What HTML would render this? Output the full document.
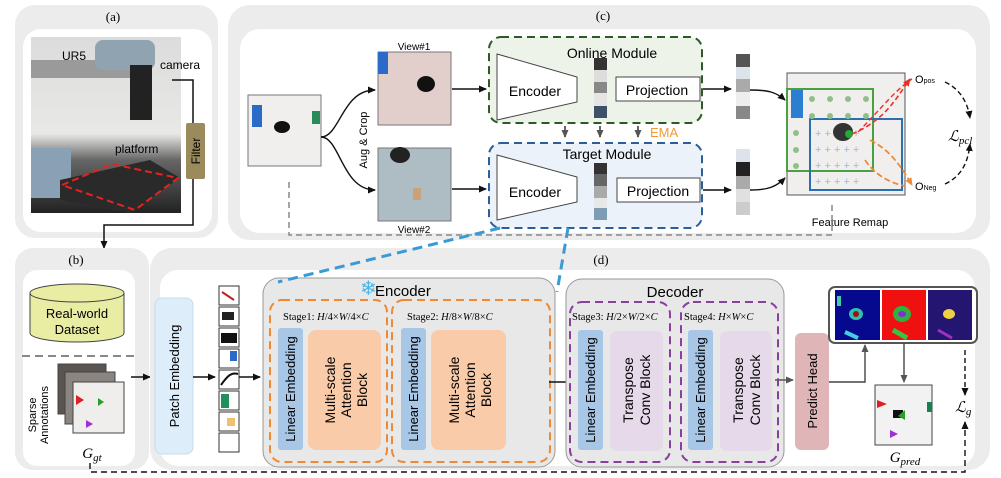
<!DOCTYPE html>
<html><head><meta charset="utf-8"><style>
html,body{margin:0;padding:0;background:#fff}
svg{display:block}
text{font-family:"Liberation Sans",sans-serif}
.s{font-family:"Liberation Serif",serif}
</style></head><body>
<svg width="1001" height="478" viewBox="0 0 1001 478" xmlns="http://www.w3.org/2000/svg">
<defs>
<marker id="ab" markerWidth="8" markerHeight="8" refX="7" refY="4" orient="auto" markerUnits="userSpaceOnUse"><path d="M0,0.5 L8,4 L0,7.5z" fill="#111"/></marker>
<marker id="ag" markerWidth="8" markerHeight="8" refX="7" refY="4" orient="auto" markerUnits="userSpaceOnUse"><path d="M0,0.5 L8,4 L0,7.5z" fill="#555"/></marker>
<marker id="ar" markerWidth="8" markerHeight="8" refX="7" refY="4" orient="auto" markerUnits="userSpaceOnUse"><path d="M0,0.5 L8,4 L0,7.5z" fill="#e8312a"/></marker>
<marker id="ao" markerWidth="8" markerHeight="8" refX="7" refY="4" orient="auto" markerUnits="userSpaceOnUse"><path d="M0,0.5 L8,4 L0,7.5z" fill="#ee8a35"/></marker>
<linearGradient id="photo" x1="0" y1="0" x2="0" y2="1"><stop offset="0" stop-color="#dcdcdc"/><stop offset="0.55" stop-color="#e8e8e6"/><stop offset="0.7" stop-color="#666"/><stop offset="1" stop-color="#222"/></linearGradient>
</defs>

<!-- Panel a -->
<rect x="15" y="5" width="203" height="233" rx="20" fill="#ececec"/>
<rect x="23" y="29" width="189" height="203" rx="18" fill="#fff"/>
<text x="113" y="21" class="s" font-size="13" text-anchor="middle">(a)</text>
<rect x="31" y="37" width="150" height="176" fill="url(#photo)"/>
<rect x="31" y="60" width="120" height="18" fill="#9a9a9a"/>
<rect x="95" y="40" width="60" height="30" rx="8" fill="#8fa3b0"/>
<rect x="130" y="65" width="22" height="55" fill="#222"/>
<rect x="31" y="148" width="40" height="50" fill="#8aa0b5"/>
<path d="M60,180 L150,160 L180,178 L130,213 L60,200z" fill="#2a2a2a"/>
<path d="M62,185 L112,164 L178,178 L135,210z" fill="none" stroke="#e5231e" stroke-width="2" stroke-dasharray="7,4"/>
<text x="62" y="60" font-size="12">UR5</text>
<text x="160" y="69" font-size="12">camera</text>
<text x="115" y="153" font-size="12">platform</text>
<path d="M172,80 L193,80 L193,225 L104,225 L104,248" fill="none" stroke="#111" stroke-width="1.5" marker-end="url(#ab)"/>
<rect x="186" y="123" width="19" height="56" rx="2" fill="#9b8a5c"/>
<text transform="translate(200,151) rotate(-90)" font-size="12" text-anchor="middle">Filter</text>

<!-- Panel c -->
<rect x="228" y="5" width="762" height="235" rx="22" fill="#ececec"/>
<rect x="240" y="29" width="736" height="204" rx="20" fill="#fff"/>
<text x="603" y="20" class="s" font-size="13" text-anchor="middle">(c)</text>
<rect x="248" y="95" width="73" height="71" fill="#f1eeee" stroke="#777"/>
<rect x="252" y="105" width="10" height="22" fill="#2c6ac9"/>
<ellipse cx="282" cy="127" rx="8" ry="6" fill="#111"/>
<rect x="312" y="111" width="8" height="13" fill="#2a8a5a"/>
<path d="M321,137 C340,137 342,90 375,90" fill="none" stroke="#111" stroke-width="1.4" marker-end="url(#ab)"/>
<path d="M321,137 C340,137 342,190 375,190" fill="none" stroke="#111" stroke-width="1.4" marker-end="url(#ab)"/>
<text transform="translate(367,140) rotate(-90)" font-size="11" text-anchor="middle">Aug &amp; Crop</text>
<text x="414" y="50" font-size="10" text-anchor="middle">View#1</text>
<rect x="378" y="52" width="73" height="73" fill="#e2cfcc" stroke="#777"/>
<rect x="378" y="52" width="10" height="22" fill="#2c6ac9"/>
<ellipse cx="426" cy="84" rx="9" ry="8" fill="#111"/>
<rect x="378" y="148" width="73" height="73" fill="#aebcc4" stroke="#777"/>
<ellipse cx="400" cy="155" rx="10" ry="8" fill="#222"/>
<rect x="413" y="188" width="8" height="12" fill="#c9a27a"/>
<text x="414" y="233" font-size="10" text-anchor="middle">View#2</text>
<line x1="452" y1="89" x2="486" y2="89" stroke="#111" stroke-width="1.4" marker-end="url(#ab)"/>
<line x1="452" y1="189" x2="486" y2="189" stroke="#111" stroke-width="1.4" marker-end="url(#ab)"/>

<rect x="489" y="37" width="213" height="86" rx="12" fill="#eef3ea" stroke="#2d5a27" stroke-width="2" stroke-dasharray="8,5"/>
<text x="612" y="58" font-size="14" text-anchor="middle">Online Module</text>
<path d="M497,54 L577,77 L577,102 L497,120z" fill="#fff" stroke="#444"/>
<text x="535" y="96" font-size="14" text-anchor="middle">Encoder</text>
<rect x="594" y="58" width="13" height="12" fill="#333"/><rect x="594" y="70" width="13" height="12" fill="#ddd"/><rect x="594" y="82" width="13" height="11" fill="#888"/><rect x="594" y="93" width="13" height="13" fill="#e5e5e5"/><rect x="594" y="106" width="13" height="12" fill="#3d5168"/>
<rect x="616" y="77" width="84" height="24" fill="#fff" stroke="#444"/>
<text x="657" y="95" font-size="14" text-anchor="middle">Projection</text>
<line x1="565" y1="126" x2="565" y2="137" stroke="#666" stroke-width="2" marker-end="url(#ag)"/>
<line x1="600" y1="126" x2="600" y2="137" stroke="#666" stroke-width="2" marker-end="url(#ag)"/>
<line x1="638" y1="126" x2="638" y2="137" stroke="#666" stroke-width="2" marker-end="url(#ag)"/>
<text x="650" y="137" font-size="13" fill="#ef9a3a">EMA</text>
<rect x="489" y="143" width="213" height="85" rx="12" fill="#ebf2f9" stroke="#2b5f9a" stroke-width="2" stroke-dasharray="8,5"/>
<text x="607" y="159" font-size="14" text-anchor="middle">Target Module</text>
<path d="M497,155 L577,177 L577,202 L497,220z" fill="#fff" stroke="#444"/>
<text x="535" y="197" font-size="14" text-anchor="middle">Encoder</text>
<rect x="594" y="163" width="13" height="11" fill="#333"/><rect x="594" y="174" width="13" height="12" fill="#666"/><rect x="594" y="186" width="13" height="12" fill="#aaa"/><rect x="594" y="198" width="13" height="10" fill="#e8e8e8"/><rect x="594" y="208" width="13" height="12" fill="#7f9cb5"/>
<rect x="617" y="178" width="83" height="24" fill="#fff" stroke="#444"/>
<text x="658" y="196" font-size="14" text-anchor="middle">Projection</text>
<line x1="703" y1="89" x2="731" y2="89" stroke="#111" stroke-width="1.4" marker-end="url(#ab)"/>
<line x1="703" y1="190" x2="731" y2="190" stroke="#111" stroke-width="1.4" marker-end="url(#ab)"/>
<rect x="736" y="54" width="14" height="13" fill="#555"/><rect x="736" y="67" width="14" height="12" fill="#dde3ea"/><rect x="736" y="79" width="14" height="13" fill="#aaa"/><rect x="736" y="92" width="14" height="14" fill="#eee"/><rect x="736" y="106" width="14" height="13" fill="#888"/>
<rect x="736" y="149" width="14" height="13" fill="#dde3ea"/><rect x="736" y="162" width="14" height="14" fill="#222"/><rect x="736" y="176" width="14" height="13" fill="#aaa"/><rect x="736" y="189" width="14" height="13" fill="#e0e0e0"/><rect x="736" y="202" width="14" height="13" fill="#ccc"/>
<path d="M750,90 C768,90 776,92 785,100" fill="none" stroke="#111" stroke-width="1.4" marker-end="url(#ab)"/>
<path d="M750,190 C768,190 776,187 785,178" fill="none" stroke="#111" stroke-width="1.4" marker-end="url(#ab)"/>
<rect x="787" y="73" width="118" height="122" fill="#f1efee" stroke="#555"/>
<rect x="791" y="90" width="12" height="28" fill="#2c7fd0"/>
<rect x="787" y="89" width="86" height="82" fill="none" stroke="#4aa043" stroke-width="2"/>
<rect x="810" y="119" width="92" height="71" fill="none" stroke="#2a70b0" stroke-width="2"/>
<g fill="#8fc08a"><circle cx="812" cy="99" r="3"/><circle cx="830" cy="99" r="3"/><circle cx="848" cy="99" r="3"/><circle cx="866" cy="99" r="3"/><circle cx="812" cy="116" r="3"/><circle cx="830" cy="116" r="3"/><circle cx="848" cy="116" r="3"/><circle cx="866" cy="116" r="3"/><circle cx="796" cy="133" r="3"/><circle cx="796" cy="150" r="3"/><circle cx="796" cy="166" r="3"/></g>
<g fill="#9ab8e0" font-size="11"><text x="815" y="137">+ + + + +</text><text x="815" y="153">+ + + + +</text><text x="815" y="169">+ + + + +</text><text x="815" y="185">+ + + + +</text></g>
<ellipse cx="843" cy="132" rx="10" ry="9" fill="#333"/><circle cx="849" cy="134" r="4" fill="#22aa33"/>
<path d="M852,134 C885,120 895,100 910,79" fill="none" stroke="#e8312a" stroke-width="1.6" stroke-dasharray="5,3" marker-end="url(#ar)"/>
<path d="M858,132 C880,110 895,90 912,79" fill="none" stroke="#e8312a" stroke-width="1.4" stroke-dasharray="5,3"/>
<path d="M870,140 C890,150 900,165 912,185" fill="none" stroke="#ee8a35" stroke-width="1.8" stroke-dasharray="6,3" marker-end="url(#ao)"/>
<path d="M865,160 C875,175 890,183 905,186" fill="none" stroke="#ee8a35" stroke-width="1.8" stroke-dasharray="6,3"/>
<text x="915" y="83" font-size="11">O<tspan font-size="7">pos</tspan></text>
<text x="915" y="190" font-size="11">O<tspan font-size="7">Neg</tspan></text>
<path d="M945,82 C962,90 968,105 970,118" fill="none" stroke="#111" stroke-width="1.4" stroke-dasharray="5,3" marker-end="url(#ab)"/>
<path d="M945,184 C962,176 968,162 970,144" fill="none" stroke="#111" stroke-width="1.4" stroke-dasharray="5,3" marker-end="url(#ab)"/>
<text x="948" y="141" class="s" font-size="15" font-style="italic">ℒ<tspan font-size="11" dy="3">pcl</tspan></text>
<text x="850" y="226" font-size="11" text-anchor="middle">Feature Remap</text>
<path d="M289,182 L289,235 L832,235 L832,205" fill="none" stroke="#888" stroke-width="1.5" stroke-dasharray="6,4"/>

<!-- Panel b -->
<rect x="15" y="248" width="134" height="222" rx="18" fill="#ececec"/>
<rect x="23" y="270" width="112" height="196" rx="14" fill="#fff"/>
<text x="76" y="264" class="s" font-size="13" text-anchor="middle">(b)</text>
<path d="M30,293 L30,333 A47,9 0 0 0 124,333 L124,293" fill="#e9eda4" stroke="#444"/>
<ellipse cx="77" cy="293" rx="47" ry="9" fill="#e9eda4" stroke="#444"/>
<text x="77" y="318" font-size="13" text-anchor="middle">Real-world</text>
<text x="77" y="334" font-size="13" text-anchor="middle">Dataset</text>
<line x1="22" y1="356" x2="135" y2="356" stroke="#888" stroke-width="2" stroke-dasharray="8,5"/>
<text transform="translate(36,415) rotate(-90)" font-size="11" text-anchor="middle">Sparse</text>
<text transform="translate(48,415) rotate(-90)" font-size="11" text-anchor="middle">Annotations</text>
<rect x="58" y="364" width="48" height="50" fill="#5a5550" stroke="#444"/>
<rect x="65" y="372" width="50" height="52" fill="#8a8580" stroke="#444"/>
<rect x="73" y="382" width="51" height="51" fill="#f0eded" stroke="#444"/>
<path d="M76,395 L84,400 L76,405z" fill="#e02020"/><path d="M98,398 L104,402 L98,406z" fill="#2aa02a"/><path d="M86,420 L93,424 L86,428z" fill="#a030d0"/>
<text x="92" y="458" class="s" font-size="15" font-style="italic" text-anchor="middle">G<tspan font-size="11" dy="3">gt</tspan></text>
<line x1="131" y1="377" x2="150" y2="377" stroke="#111" stroke-width="1.4" marker-end="url(#ab)"/>

<!-- Panel d -->
<rect x="150" y="248" width="840" height="222" rx="22" fill="#ececec"/>
<rect x="160" y="270" width="815" height="196" rx="18" fill="#fff"/>
<text x="601" y="264" class="s" font-size="13" text-anchor="middle">(d)</text>
<rect x="155" y="298" width="38" height="156" rx="7" fill="#ddeefa" stroke="#c5dbe9"/>
<text transform="translate(179,376) rotate(-90)" font-size="13" text-anchor="middle">Patch  Embedding</text>
<line x1="193" y1="377" x2="215" y2="377" stroke="#111" stroke-width="1.4" marker-end="url(#ab)"/>
<g stroke="#333" fill="#fff">
<rect x="219" y="286" width="20" height="19"/><rect x="219" y="307" width="20" height="19"/><rect x="219" y="328" width="20" height="19"/><rect x="219" y="349" width="20" height="19"/><rect x="219" y="370" width="20" height="19"/><rect x="219" y="391" width="20" height="19"/><rect x="219" y="412" width="20" height="19"/><rect x="219" y="433" width="20" height="19"/></g>
<rect x="222" y="312" width="12" height="8" fill="#222"/><rect x="221" y="333" width="16" height="10" fill="#111"/><rect x="230" y="351" width="7" height="10" fill="#2c6ac9"/><path d="M221,385 C228,375 232,372 238,374" stroke="#111" stroke-width="2" fill="none"/><rect x="221" y="394" width="8" height="14" fill="#22905a"/><rect x="227" y="418" width="8" height="8" fill="#f0c070"/><path d="M222,292 L234,300" stroke="#c02020" stroke-width="2"/>
<line x1="239" y1="377" x2="260" y2="377" stroke="#111" stroke-width="1.4" marker-end="url(#ab)"/>

<rect x="263" y="278" width="292" height="189" rx="16" fill="#e8e8e8" stroke="#999"/>
<text x="360" y="295" font-size="20" fill="#4ab5e5">❄</text>
<text x="375" y="296" font-size="15">Encoder</text>
<rect x="270" y="300" width="117" height="162" rx="12" fill="none" stroke="#ee8a35" stroke-width="2" stroke-dasharray="8,5"/>
<rect x="392" y="300" width="158" height="162" rx="12" fill="none" stroke="#ee8a35" stroke-width="2" stroke-dasharray="8,5"/>
<text x="283" y="320" class="s" font-size="10.5">Stage1: <tspan font-style="italic">H</tspan>/4×<tspan font-style="italic">W</tspan>/4×<tspan font-style="italic">C</tspan></text>
<text x="407" y="320" class="s" font-size="10.5">Stage2: <tspan font-style="italic">H</tspan>/8×<tspan font-style="italic">W</tspan>/8×<tspan font-style="italic">C</tspan></text>
<rect x="278" y="328" width="25" height="122" rx="3" fill="#a8c6e6"/>
<text transform="translate(295,389) rotate(-90)" font-size="13" text-anchor="middle">Linear  Embedding</text>
<rect x="308" y="330" width="73" height="120" rx="8" fill="#f9cba8"/>
<text transform="translate(335,390) rotate(-90)" font-size="14" text-anchor="middle">Multi-scale</text>
<text transform="translate(351,390) rotate(-90)" font-size="14" text-anchor="middle">Attention</text>
<text transform="translate(367,390) rotate(-90)" font-size="14" text-anchor="middle">Block</text>
<rect x="401" y="328" width="25" height="122" rx="3" fill="#a8c6e6"/>
<text transform="translate(418,389) rotate(-90)" font-size="13" text-anchor="middle">Linear  Embedding</text>
<rect x="431" y="330" width="75" height="120" rx="8" fill="#f9cba8"/>
<text transform="translate(459,390) rotate(-90)" font-size="14" text-anchor="middle">Multi-scale</text>
<text transform="translate(475,390) rotate(-90)" font-size="14" text-anchor="middle">Attention</text>
<text transform="translate(491,390) rotate(-90)" font-size="14" text-anchor="middle">Block</text>
<line x1="549" y1="382" x2="576" y2="382" stroke="#111" stroke-width="1.4" marker-end="url(#ab)"/>

<rect x="566" y="279" width="218" height="188" rx="16" fill="#e8e8e8" stroke="#999"/>
<text x="675" y="297" font-size="15" text-anchor="middle">Decoder</text>
<rect x="570" y="302" width="100" height="160" rx="12" fill="none" stroke="#8a3fa0" stroke-width="2" stroke-dasharray="8,5"/>
<rect x="681" y="302" width="97" height="160" rx="12" fill="none" stroke="#8a3fa0" stroke-width="2" stroke-dasharray="8,5"/>
<text x="572" y="320" class="s" font-size="10.5">Stage3: <tspan font-style="italic">H</tspan>/2×<tspan font-style="italic">W</tspan>/2×<tspan font-style="italic">C</tspan></text>
<text x="684" y="320" class="s" font-size="10.5">Stage4: <tspan font-style="italic">H</tspan>×<tspan font-style="italic">W</tspan>×<tspan font-style="italic">C</tspan></text>
<rect x="578" y="330" width="25" height="120" rx="3" fill="#a8c6e6"/>
<text transform="translate(595,390) rotate(-90)" font-size="13" text-anchor="middle">Linear  Embedding</text>
<rect x="610" y="331" width="53" height="120" rx="7" fill="#e6d9ea"/>
<text transform="translate(633,390) rotate(-90)" font-size="14" text-anchor="middle">Transpose</text>
<text transform="translate(650,390) rotate(-90)" font-size="14" text-anchor="middle">Conv Block</text>
<rect x="688" y="330" width="25" height="120" rx="3" fill="#a8c6e6"/>
<text transform="translate(705,390) rotate(-90)" font-size="13" text-anchor="middle">Linear  Embedding</text>
<rect x="720" y="331" width="52" height="120" rx="7" fill="#e6d9ea"/>
<text transform="translate(743,390) rotate(-90)" font-size="14" text-anchor="middle">Transpose</text>
<text transform="translate(760,390) rotate(-90)" font-size="14" text-anchor="middle">Conv Block</text>
<line x1="775" y1="380" x2="793" y2="380" stroke="#555" stroke-width="1.4" marker-end="url(#ag)"/>
<rect x="795" y="333" width="34" height="117" rx="6" fill="#e0b5b8"/>
<text transform="translate(817,391) rotate(-90)" font-size="13" text-anchor="middle">Predict Head</text>
<path d="M829,382 L865,382 L865,345" fill="none" stroke="#444" stroke-width="1.4" marker-end="url(#ag)"/>
<rect x="829" y="287" width="148" height="56" rx="6" fill="#fff" stroke="#555" stroke-width="2"/>
<rect x="835" y="290" width="45" height="50" fill="#06088e"/>
<ellipse cx="856" cy="314" rx="7" ry="6" fill="#30c0b0"/><ellipse cx="856" cy="314" rx="3" ry="3" fill="#a01010"/><path d="M845,332 L858,338" stroke="#40d0e0" stroke-width="4"/><rect x="837" y="296" width="4" height="10" fill="#40d0a0"/>
<rect x="882" y="290" width="44" height="50" fill="#f01010"/>
<ellipse cx="902" cy="314" rx="9" ry="8" fill="#30b040"/><ellipse cx="902" cy="314" rx="4" ry="3" fill="#8030d0"/><path d="M893,330 L907,338" stroke="#40c040" stroke-width="5"/>
<rect x="928" y="290" width="44" height="50" fill="#231570"/>
<ellipse cx="949" cy="314" rx="6" ry="5" fill="#f0d040"/><path d="M938,330 L952,338" stroke="#a030c0" stroke-width="3"/>
<line x1="904" y1="343" x2="904" y2="382" stroke="#444" stroke-width="1.4" marker-end="url(#ag)"/>
<rect x="875" y="385" width="57" height="60" fill="#f3f2f2" stroke="#444"/>
<path d="M877,400 L887,404 L877,408z" fill="#e02020"/><rect x="893" y="410" width="10" height="8" fill="#111"/><path d="M905,410 L898,416 L905,420z" fill="#2aa02a"/><path d="M890,430 L898,434 L890,438z" fill="#a030d0"/><rect x="927" y="402" width="5" height="10" fill="#188050"/>
<text x="905" y="462" class="s" font-size="15" font-style="italic" text-anchor="middle">G<tspan font-size="11" dy="3">pred</tspan></text>
<line x1="965" y1="350" x2="965" y2="395" stroke="#111" stroke-width="1.4" stroke-dasharray="5,3" marker-end="url(#ab)"/>
<text x="955" y="412" class="s" font-size="15" font-style="italic">ℒ<tspan font-size="11" dy="3">g</tspan></text>
<path d="M90,463 L90,472 L965,472 L965,422" fill="none" stroke="#111" stroke-width="1.4" stroke-dasharray="6,4" marker-end="url(#ab)"/>

<!-- blue dashed zoom lines -->
<line x1="500" y1="228" x2="278" y2="282" stroke="#3a9ad5" stroke-width="3" stroke-dasharray="10,6"/>
<line x1="568" y1="228" x2="557" y2="292" stroke="#3a9ad5" stroke-width="3" stroke-dasharray="10,6"/>
</svg>
</body></html>
